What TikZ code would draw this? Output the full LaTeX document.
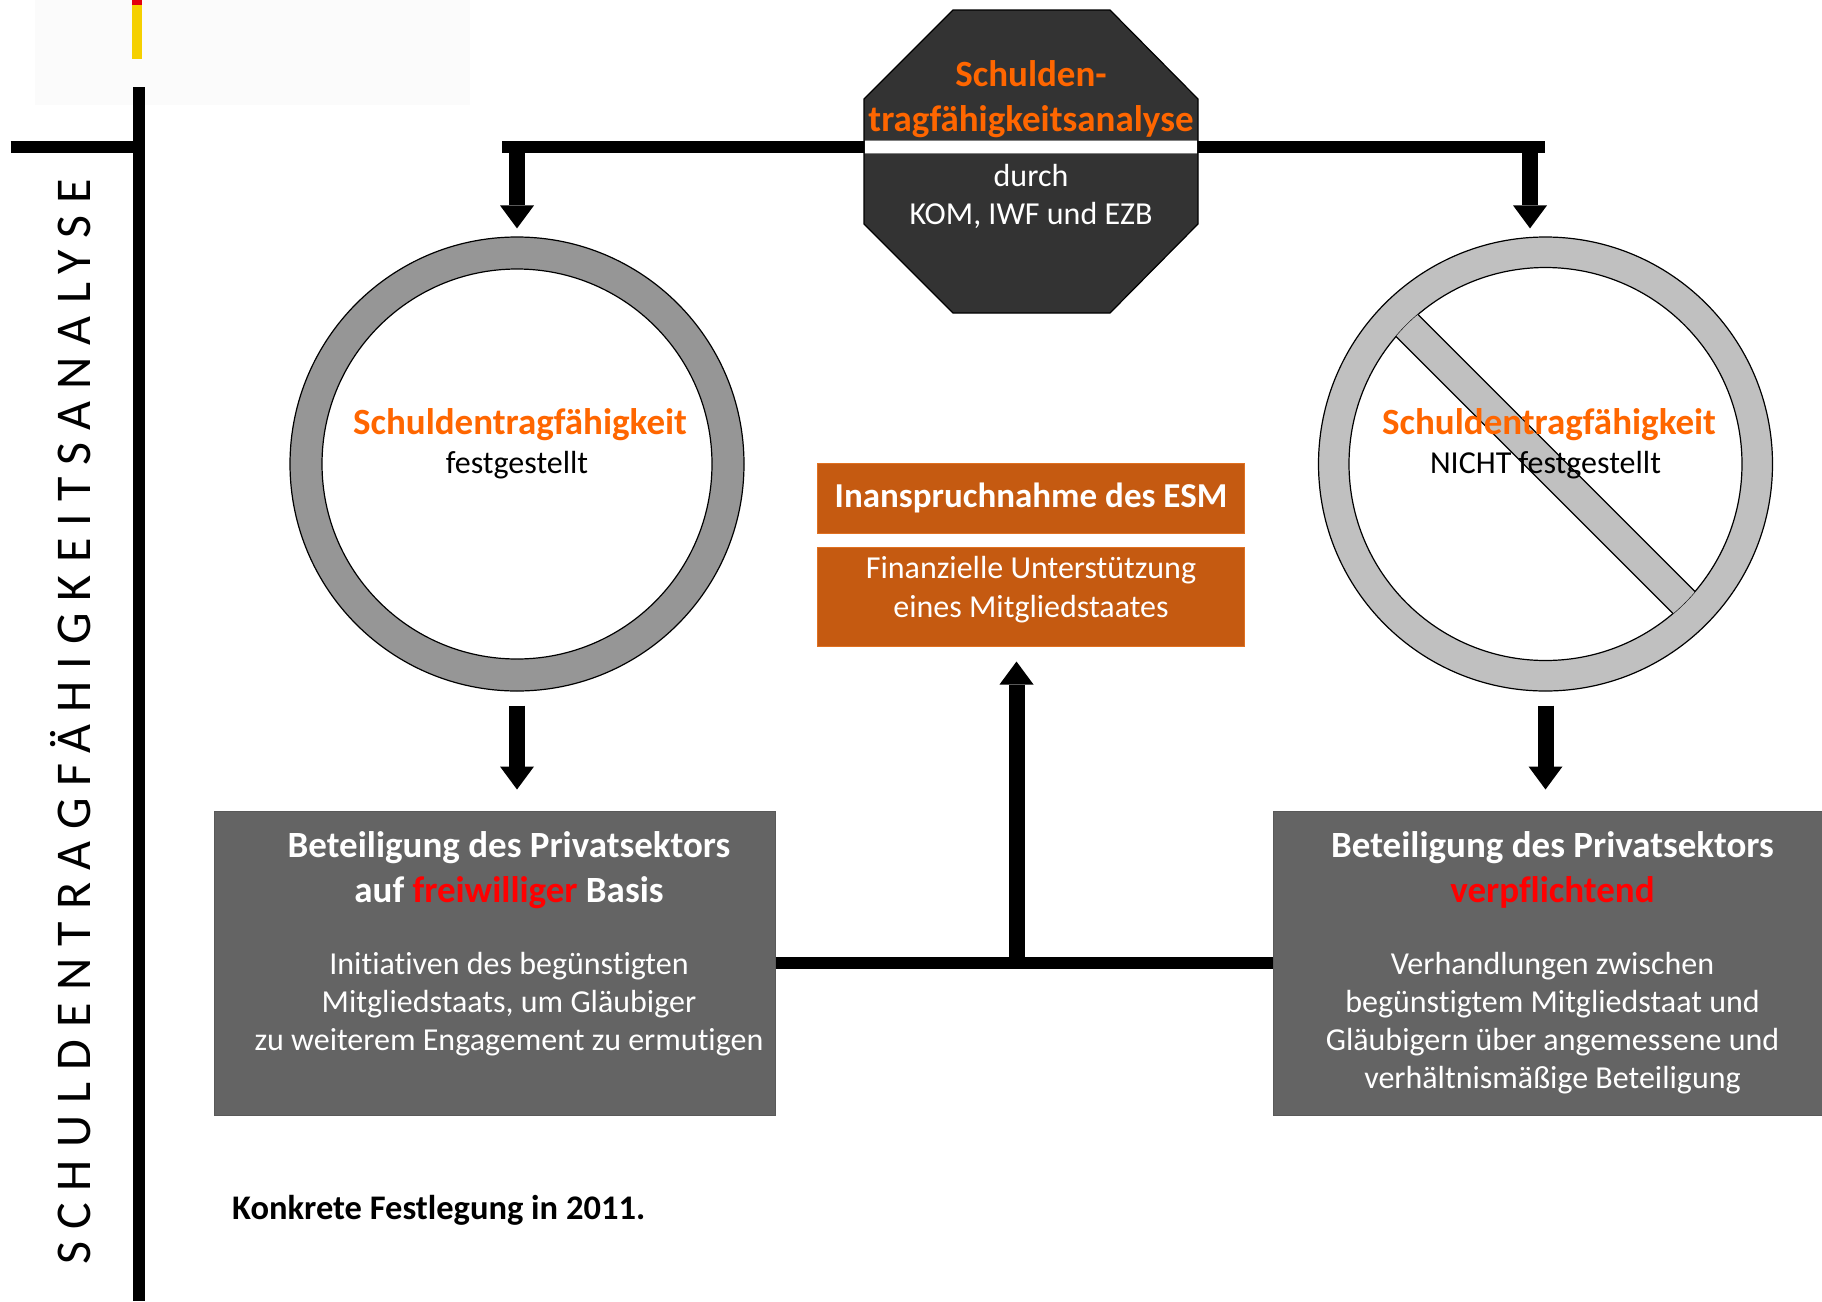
\documentclass[tikz,border=0pt]{standalone}
\usepackage{fontspec}
\setmainfont{Carlito}[Ligatures=NoCommon]
\usetikzlibrary{arrows.meta,calc}
\definecolor{orangeT}{HTML}{FF6600}
\definecolor{esmfill}{HTML}{C55A11}
\definecolor{esmedge}{HTML}{E07020}
\definecolor{boxgray}{HTML}{646464}
\definecolor{octfill}{HTML}{333333}
\definecolor{ringdark}{HTML}{969696}
\definecolor{ringlight}{HTML}{C0C0C0}
\definecolor{logogold}{HTML}{F5D000}
\definecolor{logored}{HTML}{E3000F}
\definecolor{redT}{HTML}{FF0000}
\newcommand{\fsN}{\fontsize{32}{39}\selectfont}
\newcommand{\fsB}{\fontsize{37}{45}\selectfont\bfseries}
\newcommand{\fsE}{\fontsize{35}{42}\selectfont\bfseries}
\newcommand{\fsK}{\fontsize{34.5}{42}\selectfont\bfseries}
\newcommand{\fsSide}{\fontsize{50}{60}\selectfont\addfontfeature{LetterSpace=24.3}}
\tikzset{
  lbl/.style={anchor=base, inner sep=0, font=\fsN, text=white},
  ttl/.style={anchor=base, inner sep=0, font=\fsB},
  bar/.style={line width=12, line cap=butt},
  blockarrow/.style={line width=16, -{Triangle[width=34pt,length=23pt,line width=0pt]}},
  edgeline/.style={line width=1.2, draw=black},
}
\begin{document}
\begin{tikzpicture}[x=1pt,y=-1pt]
\useasboundingbox (0,0) rectangle (1822,1301);
\clip (0,0) rectangle (1822,1301);
% logo area
\fill[black!1.5] (35,0) rectangle (470,105);
\fill[logored] (132,0) rectangle (141.5,5);
\fill[logogold] (132,5) rectangle (141.5,59);
% left frame
\draw[bar] (138.5,87) -- (138.5,1301);
\draw[bar] (10.5,146.5) -- (138.5,146.5);
\node[rotate=90, inner sep=0, font=\fsSide] (side) at (71,722) {SCHULDENTRAGFÄHIGKEITSANALYSE};

% octagon node (frame)
\node[minimum width=334, minimum height=303, inner sep=0] (oct) at (1031,161.5) {};
\coordinate (jL) at (517,146.5);
\coordinate (jR) at (1530,146.5);
\coordinate (lineL) at (502,146.5);
\coordinate (lineR) at (1545,146.5);
\draw[bar] (lineL) -- (lineR);
\draw[edgeline, fill=octfill] (953,10) -- (1110,10) -- (1198,99) -- (1198,224) -- (1110,313) -- (953,313) -- (864,224) -- (864,99) -- cycle;
\fill[white] (864.6,140) rectangle (1197.4,153);
\draw[gray, line width=1] (864.6,140) -- (1197.4,140) (864.6,153) -- (1197.4,153);
\node[ttl, text=orangeT] (o1) at (1031,86) {Schulden-};
\node[ttl, text=orangeT] (o2) at (1031,131) {tragfähigkeitsanalyse};
\node[lbl] (o3) at (1031,186) {durch};
\node[lbl] (o4) at (1031,224) {KOM, IWF und EZB};

% rings
\node[circle, edgeline, fill=ringdark, minimum size=454, inner sep=0] (ringL) at (517,464) {};
\node[circle, edgeline, fill=white, minimum size=390, inner sep=0] (ringLi) at (517,464) {};
\node[circle, edgeline, fill=ringlight, minimum size=454, inner sep=0] (ringR) at (1545.5,464) {};
\node[circle, edgeline, fill=white, minimum size=393, inner sep=0] (ringRi) at (1545.5,464) {};
\begin{scope}
\clip (ringR.center) circle (196.5);
\fill[ringlight] ($(ringR.center)+(-144.6,-166.6)$) -- ($(ringR.center)+(166.6,144.6)$) -- ($(ringR.center)+(144.6,166.6)$) -- ($(ringR.center)+(-166.6,-144.6)$) -- cycle;
\draw[edgeline] ($(ringR.center)+(-144.6,-166.6)$) -- ($(ringR.center)+(166.6,144.6)$)
  ($(ringR.center)+(144.6,166.6)$) -- ($(ringR.center)+(-166.6,-144.6)$);
\end{scope}
\node[ttl, text=orangeT] (cl1) at (520,434) {Schuldentragfähigkeit};
\node[lbl, text=black] (cl2) at (517,473) {festgestellt};
\node[ttl, text=orangeT] (cr1) at (1549,434) {Schuldentragfähigkeit};
\node[lbl, text=black] (cr2) at (1545.5,473) {NICHT festgestellt};

% ESM boxes
\node[draw=esmedge, line width=1, fill=esmfill, minimum width=427, minimum height=70, inner sep=0] (esm1) at (1031,498) {};
\node[draw=esmedge, line width=1, fill=esmfill, minimum width=427, minimum height=99, inner sep=0] (esm2) at (1031,596.5) {};
\node[anchor=base, inner sep=0, font=\fsE, text=white] (e1) at (1031,507) {Inanspruchnahme des ESM};
\node[lbl] (e2) at (1031,578) {Finanzielle Unterstützung};
\node[lbl] (e3) at (1031,617) {eines Mitgliedstaates};

% gray boxes
\node[draw=black!65, line width=1, fill=boxgray, minimum width=561, minimum height=304, inner sep=0] (boxL) at (494.5,963) {};
\node[draw=black!65, line width=1, fill=boxgray, minimum width=567, minimum height=304, inner sep=0] (boxR) at (1556.5,963) {};
\node[ttl, text=white] (bl1) at (509,857) {Beteiligung des Privatsektors};
\node[ttl, text=white] (bl2) at (509,902) {auf \textcolor{redT}{freiwilliger} Basis};
\node[lbl] (bl3) at (509,974) {Initiativen des begünstigten};
\node[lbl] (bl4) at (509,1012) {Mitgliedstaats, um Gläubiger};
\node[lbl] (bl5) at (509,1050) {zu weiterem Engagement zu ermutigen};
\node[ttl, text=white] (br1) at (1552.5,857) {Beteiligung des Privatsektors};
\node[ttl, text=redT] (br2) at (1552.5,902) {verpflichtend};
\node[lbl] (br3) at (1552.5,974) {Verhandlungen zwischen};
\node[lbl] (br4) at (1552.5,1012) {begünstigtem Mitgliedstaat und};
\node[lbl] (br5) at (1552.5,1050) {Gläubigern über angemessene und};
\node[lbl] (br6) at (1552.5,1088) {verhältnismäßige Beteiligung};

% connectors
\draw[blockarrow] (jL) -- ([yshift=8pt]ringL.north);
\draw[blockarrow] (jR) -- ([yshift=8pt]jR |- ringR.north);
\draw[blockarrow] ([yshift=-14pt]ringL.south) -- ([yshift=21pt]ringL.south |- boxL.north);
\draw[blockarrow] ([yshift=-14pt]ringR.south) -- ([yshift=21pt]ringR.south |- boxR.north);
\draw[bar] (boxL.east) -- (boxR.west);
\coordinate (jM) at (1016.5,963);
\draw[blockarrow] (jM) -- ([yshift=-15pt]jM |- esm2.south);

\node[anchor=base west, inner sep=0, font=\fsK] (note) at (232,1219) {Konkrete Festlegung in 2011.};
\end{tikzpicture}
\end{document}
